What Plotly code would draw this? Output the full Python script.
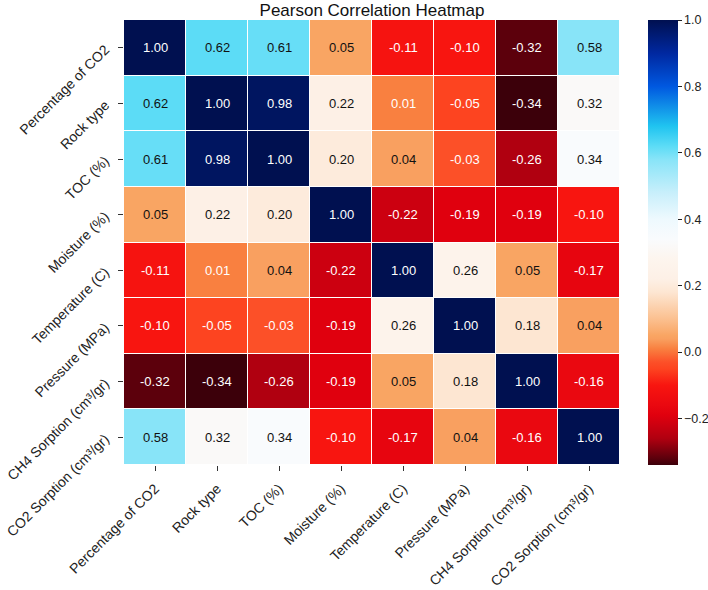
import plotly.graph_objects as go

labels = ["Percentage of CO2", "Rock type", "TOC (%)", "Moisture (%)",
          "Temperature (C)", "Pressure (MPa)", "CH4 Sorption (cm³/gr)",
          "CO2 Sorption (cm³/gr)"]

corr = [
    [1.00, 0.62, 0.61, 0.05, -0.11, -0.10, -0.32, 0.58],
    [0.62, 1.00, 0.98, 0.22, 0.01, -0.05, -0.34, 0.32],
    [0.61, 0.98, 1.00, 0.20, 0.04, -0.03, -0.26, 0.34],
    [0.05, 0.22, 0.20, 1.00, -0.22, -0.19, -0.19, -0.10],
    [-0.11, 0.01, 0.04, -0.22, 1.00, 0.26, 0.05, -0.17],
    [-0.10, -0.05, -0.03, -0.19, 0.26, 1.00, 0.18, 0.04],
    [-0.32, -0.34, -0.26, -0.19, 0.05, 0.18, 1.00, -0.16],
    [0.58, 0.32, 0.34, -0.10, -0.17, 0.04, -0.16, 1.00],
]

cbar_ticks = [1.0, 0.8, 0.6, 0.4, 0.2, 0.0, -0.2]

zmin, zmax = -0.34, 1.0
stops = [
    (-0.34, "#3c000a"), (-0.32, "#5c000c"), (-0.26, "#b00010"),
    (-0.22, "#cc0010"), (-0.19, "#e0000e"), (-0.16, "#ea0810"),
    (-0.10, "#f81510"), (-0.05, "#fd4420"), (-0.03, "#fc5028"),
    (0.01, "#f98040"), (0.04, "#f9a060"), (0.05, "#f9a563"),
    (0.10, "#fbc090"), (0.18, "#fde6d2"), (0.22, "#fdf0e6"),
    (0.28, "#fdf5ee"), (0.34, "#f9fbfd"), (0.40, "#eef9fe"),
    (0.48, "#c8effb"), (0.58, "#88e4f8"), (0.62, "#5cdcf6"),
    (0.68, "#20c4f0"), (0.80, "#0058e0"), (0.90, "#0028a0"),
    (1.00, "#001050"),
]
colorscale = [[(v - zmin) / (zmax - zmin), c] for v, c in stops]

font_family = "Liberation Sans, Arial, sans-serif"

fig = go.Figure(go.Heatmap(
    z=corr, x=labels, y=labels,
    zmin=zmin, zmax=zmax, colorscale=colorscale,
    xgap=1, ygap=1,
    hoverongaps=False,
    colorbar=dict(
        x=(648 - 124) / 496, xanchor="left", xref="paper",
        y=0.5, yanchor="middle", len=1.0, lenmode="fraction",
        thickness=30, outlinewidth=0, xpad=0, ypad=0,
        tickvals=cbar_ticks, tickformat=".1f",
        ticks="outside", ticklen=4, tickcolor="#222",
        tickfont=dict(family=font_family, size=12.5, color="#222"),
    ),
))

annotations = []
for i, row in enumerate(corr):
    for j, v in enumerate(row):
        color = "white" if (v < 0.03 or v > 0.9) else "#111"
        annotations.append(dict(
            x=labels[j], y=labels[i], text=f"{v:.2f}", showarrow=False,
            font=dict(family=font_family, size=13, color=color),
        ))

fig.update_layout(
    width=708, height=590,
    margin=dict(l=124, r=88, t=20, b=125, autoexpand=False),
    paper_bgcolor="white", plot_bgcolor="white",
    title=dict(text="Pearson Correlation Heatmap", x=(124 + 248) / 708,
               xanchor="center", xref="container", y=1 - 10 / 590,
               yanchor="middle", yref="container",
               font=dict(family=font_family, size=17, color="#111")),
    annotations=annotations,
    font=dict(family=font_family, size=14, color="#222"),
)
fig.update_xaxes(tickangle=-45, ticks="outside", ticklen=5, tickcolor="#333",
                 showgrid=False, zeroline=False, ticklabelstandoff=4,
                 tickfont=dict(family=font_family, size=14, color="#222"))
fig.update_yaxes(tickangle=-45, ticks="outside", ticklen=5, tickcolor="#333",
                 autorange="reversed", showgrid=False, zeroline=False,
                 ticklabelstandoff=10,
                 tickfont=dict(family=font_family, size=14, color="#222"))

fig.write_html("out.html")
